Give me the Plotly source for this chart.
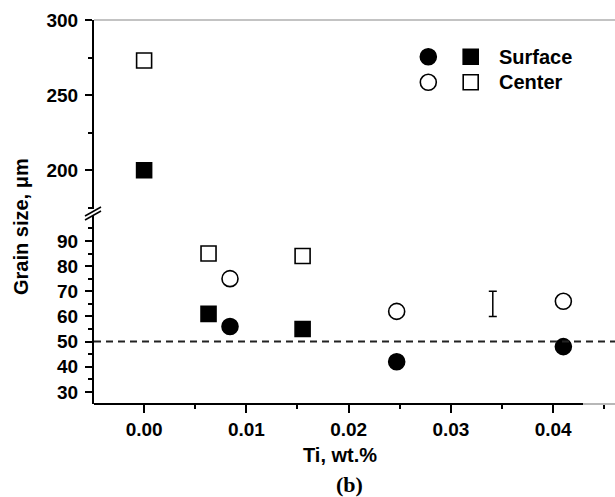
import plotly.graph_objects as go

# ---- data ----
sq_x = [0.0, 0.0063, 0.0155]
sq_surface = [200, 61, 55]
sq_center = [273, 85, 84]
circ_x = [0.0084, 0.0247, 0.0410]
circ_surface = [56, 42, 48]
circ_center = [75, 62, 66]
err_x = [0.0341]
err_y = [65]
err_half = [5]
ref_level = 50
x_ticks = [0.0, 0.01, 0.02, 0.03, 0.04]
y_low_ticks = [30, 40, 50, 60, 70, 80, 90]
y_high_ticks = [200, 250, 300]
legend_labels = ["Surface", "Center"]

W, H = 615, 497
ML, MR, MT, MB = 94, 0, 20, 93
PW, PH = W - ML - MR, H - MT - MB

def px(x):
    return (x - ML) / PW

def py(y):
    return (H - MB - y) / PH

FONT = "Liberation Sans, Arial, sans-serif"
MS = 16

def split(xs, ys, upper):
    out_x, out_y = [], []
    for a, b in zip(xs, ys):
        if (b > 150) == upper:
            out_x.append(a)
            out_y.append(b)
    return out_x, out_y

fig = go.Figure()

def add(xs, ys, symbol, filled):
    for upper in (False, True):
        sx, sy = split(xs, ys, upper)
        if not sx:
            continue
        fig.add_trace(go.Scatter(
            x=sx, y=sy, mode="markers", showlegend=False,
            yaxis="y2" if upper else "y",
            marker=dict(symbol=symbol, size=MS if symbol == "circle" else 15,
                        color="black" if filled else "white",
                        line=dict(color="black", width=1.6)),
        ))

add(sq_x, sq_surface, "square", True)
add(sq_x, sq_center, "square", False)
add(circ_x, circ_surface, "circle", True)
add(circ_x, circ_center, "circle", False)

fig.add_trace(go.Scatter(
    x=err_x, y=err_y, mode="markers", showlegend=False,
    marker=dict(size=1, color="rgba(0,0,0,0)"),
    error_y=dict(type="data", array=err_half, visible=True,
                 color="black", thickness=1.5, width=4),
))

shapes = []
shapes.append(dict(type="line", xref="paper", yref="y", x0=0, x1=1,
                   y0=ref_level, y1=ref_level,
                   line=dict(color="#222", width=2, dash="7px,5px")))
shapes.append(dict(type="line", xref="paper", yref="paper", x0=0, x1=1,
                   y0=1, y1=1, line=dict(color="#888", width=1.2)))
shapes.append(dict(type="line", xref="paper", yref="paper", x0=0, x1=px(583),
                   y0=0, y1=0, line=dict(color="black", width=2)))
shapes.append(dict(type="line", xref="paper", yref="paper", x0=px(583), x1=1,
                   y0=0, y1=0, line=dict(color="#888", width=1.2)))
for off in (0, 4):
    shapes.append(dict(type="line", xref="paper", yref="paper",
                       x0=px(85), y0=py(216 + off), x1=px(101), y1=py(207 + off),
                       line=dict(color="black", width=1.5)))

rows = [56.7, 82.3]
for i, yy in enumerate(rows):
    filled = i == 0
    fc = "black" if filled else "white"
    shapes.append(dict(type="circle", xref="paper", yref="paper",
                       xsizemode="pixel", ysizemode="pixel",
                       xanchor=px(428.3), yanchor=py(yy),
                       x0=-8, x1=8, y0=-8, y1=8,
                       fillcolor=fc, line=dict(color="black", width=1.6)))
    shapes.append(dict(type="rect", xref="paper", yref="paper",
                       xsizemode="pixel", ysizemode="pixel",
                       xanchor=px(470.7), yanchor=py(yy),
                       x0=-7.5, x1=7.5, y0=-7.5, y1=7.5,
                       fillcolor=fc, line=dict(color="black", width=1.6)))

annotations = []
for lab, yy in zip(legend_labels, rows):
    annotations.append(dict(text=lab, xref="paper", yref="paper",
                            x=px(497), y=py(yy), xanchor="left", yanchor="middle",
                            showarrow=False,
                            font=dict(family=FONT, size=20, color="black", weight="bold")))
annotations.append(dict(text="Grain size, μm", xref="paper", yref="paper",
                        x=px(21), y=py(227), xanchor="center", yanchor="middle",
                        textangle=-90, showarrow=False,
                        font=dict(family=FONT, size=20, color="black", weight="bold")))
annotations.append(dict(text="Ti, wt.%", xref="paper", yref="paper",
                        x=px(340), y=py(455), xanchor="center", yanchor="middle",
                        showarrow=False,
                        font=dict(family=FONT, size=20, color="black", weight="bold")))
annotations.append(dict(text="(b)", xref="paper", yref="paper",
                        x=px(349), y=py(484), xanchor="center", yanchor="middle",
                        showarrow=False,
                        font=dict(family="Liberation Serif, Times New Roman, serif",
                                  size=22, color="black", weight="bold")))

tickfont = dict(family=FONT, size=19, color="black", weight="bold")

fig.update_layout(
    width=W, height=H,
    margin=dict(l=ML, r=MR, t=MT, b=MB, pad=0),
    paper_bgcolor="white", plot_bgcolor="white",
    showlegend=False,
    shapes=shapes, annotations=annotations,
    xaxis=dict(range=[-0.0049, 0.04605], showline=False, showgrid=False, zeroline=False,
               tickvals=x_ticks, tickformat=".2f", ticks="outside", ticklen=8,
               tickwidth=1.5, tickcolor="black", tickfont=tickfont,
               ticklabelstandoff=0,
               minor=dict(tick0=-0.005, dtick=0.005, ticks="outside", ticklen=4,
                          tickwidth=1.5, tickcolor="black", showgrid=False),
               anchor="y"),
    yaxis=dict(domain=[0, py(216)], range=[25.2, 99.9], showline=True, linecolor="black",
               linewidth=2, showgrid=False, zeroline=False, tickvals=y_low_ticks,
               ticks="outside", ticklen=7, tickwidth=1.5, tickcolor="black",
               tickfont=tickfont, ticklabelstandoff=3,
               minor=dict(tick0=25, dtick=5, ticks="outside", ticklen=4, tickwidth=1.5,
                          tickcolor="black", showgrid=False),
               anchor="x"),
    yaxis2=dict(domain=[py(209), 1], range=[174.2, 300], showline=True, linecolor="black",
                linewidth=2, showgrid=False, zeroline=False, tickvals=y_high_ticks,
                ticks="outside", ticklen=7, tickwidth=1.5, tickcolor="black",
                tickfont=tickfont, ticklabelstandoff=3,
                minor=dict(tick0=175, dtick=25, ticks="outside", ticklen=4, tickwidth=1.5,
                           tickcolor="black", showgrid=False),
                anchor="x"),
)

fig.write_html("out.html", config={"displayModeBar": False},
               post_script="document.body.style.margin='0';document.body.style.padding='0';")
